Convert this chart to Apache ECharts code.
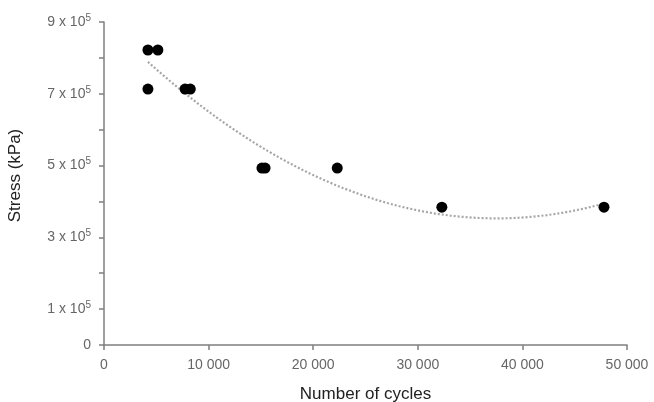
<!DOCTYPE html>
<html>
<head>
<meta charset="utf-8">
<script src="https://cdn.jsdelivr.net/npm/echarts@6/dist/echarts.min.js"></script>
<style>
html, body { margin: 0; padding: 0; background: #fff; }
#chart { width: 654px; height: 402px; }
</style>
</head>
<body>
<div id="chart"></div>
<script>
// measured points (cycles, stress in kPa)
var cycles = [4200, 5150, 4200, 7750, 8250, 15100, 15400, 22300, 32300, 47800];
var stress = [822000, 822000, 713000, 713000, 713000, 493000, 493000, 493000, 384000, 384000];
var yLabelSteps = [0, 1, 3, 5, 7, 9];

// quadratic trendline (least squares, like the spreadsheet's poly trendline)
function polyFit2(xs, ys) {
    var n = xs.length, s = [0, 0, 0, 0, 0], t = [0, 0, 0];
    for (var i = 0; i < n; i++) {
        var x = xs[i] / 10000, p = 1;
        for (var k = 0; k < 5; k++) { s[k] += p; if (k < 3) t[k] += p * ys[i]; p *= x; }
    }
    var m = [[s[0], s[1], s[2], t[0]], [s[1], s[2], s[3], t[1]], [s[2], s[3], s[4], t[2]]];
    for (var c = 0; c < 3; c++) {
        for (var r = c + 1; r < 3; r++) {
            var f = m[r][c] / m[c][c];
            for (var j = c; j < 4; j++) m[r][j] -= f * m[c][j];
        }
    }
    var co = [0, 0, 0];
    for (var r2 = 2; r2 >= 0; r2--) {
        var v = m[r2][3];
        for (var j2 = r2 + 1; j2 < 3; j2++) v -= m[r2][j2] * co[j2];
        co[r2] = v / m[r2][r2];
    }
    return function (x) { x = x / 10000; return co[0] + co[1] * x + co[2] * x * x; };
}

var fit = polyFit2(cycles, stress);
var xMin = Math.min.apply(null, cycles), xMax = Math.max.apply(null, cycles);
var trend = [];
for (var i = 0; i <= 80; i++) {
    var xx = xMin + (xMax - xMin) * i / 80;
    trend.push([xx, fit(xx)]);
}

var points = cycles.map(function (c, i) { return [c, stress[i]]; });

var myChart = echarts.init(document.getElementById('chart'));
var option = {
    animation: false,
    grid: { left: 104, right: 27, top: 22, bottom: 57, containLabel: false, outerBoundsMode: 'none' },
    xAxis: {
        type: 'value',
        min: 0, max: 50000, interval: 10000,
        name: 'Number of cycles',
        nameLocation: 'middle',
        nameGap: 41,
        nameTextStyle: { fontFamily: 'Liberation Sans', fontSize: 17, color: '#222' },
        splitLine: { show: false },
        axisLine: { lineStyle: { color: '#7f7f7f', width: 1.5 } },
        axisTick: { show: true, length: 5, lineStyle: { color: '#7f7f7f', width: 1.5 } },
        axisLabel: {
            fontFamily: 'Liberation Sans', fontSize: 14, color: '#666', margin: 13,
            formatter: function (v) {
                return v === 0 ? '0' : String(v / 1000) + ' 000';
            }
        }
    },
    yAxis: {
        type: 'value',
        min: 0, max: 900000, interval: 100000,
        name: 'Stress (kPa)',
        nameLocation: 'middle',
        nameGap: 80,
        nameTextStyle: { fontFamily: 'Liberation Sans', fontSize: 17, color: '#222', padding: [0, 0, 0, 16] },
        splitLine: { show: false },
        axisLine: { show: true, lineStyle: { color: '#7f7f7f', width: 1.5 } },
        axisTick: { show: true, length: 5, lineStyle: { color: '#7f7f7f', width: 1.5 } },
        axisLabel: {
            margin: 13,
            formatter: function (v) {
                var s = Math.round(v / 100000);
                if (yLabelSteps.indexOf(s) < 0) return '';
                if (s === 0) return '{b|0}';
                return '{b|' + s + ' x 10}{s|5}';
            },
            rich: {
                b: { fontFamily: 'Liberation Sans', fontSize: 14, color: '#666' },
                s: { fontFamily: 'Liberation Sans', fontSize: 10, color: '#666', verticalAlign: 'bottom', padding: [0, 0, 8, 0] }
            }
        }
    },
    series: [
        {
            type: 'line',
            data: trend,
            showSymbol: false,
            smooth: false,
            lineStyle: { color: '#a6a6a6', width: 2.2, type: [2, 2] },
            z: 1
        },
        {
            type: 'scatter',
            data: points,
            symbol: 'circle',
            symbolSize: 11,
            itemStyle: { color: '#000', opacity: 1 },
            z: 2
        }
    ]
};
myChart.setOption(option);
</script>
</body>
</html>
